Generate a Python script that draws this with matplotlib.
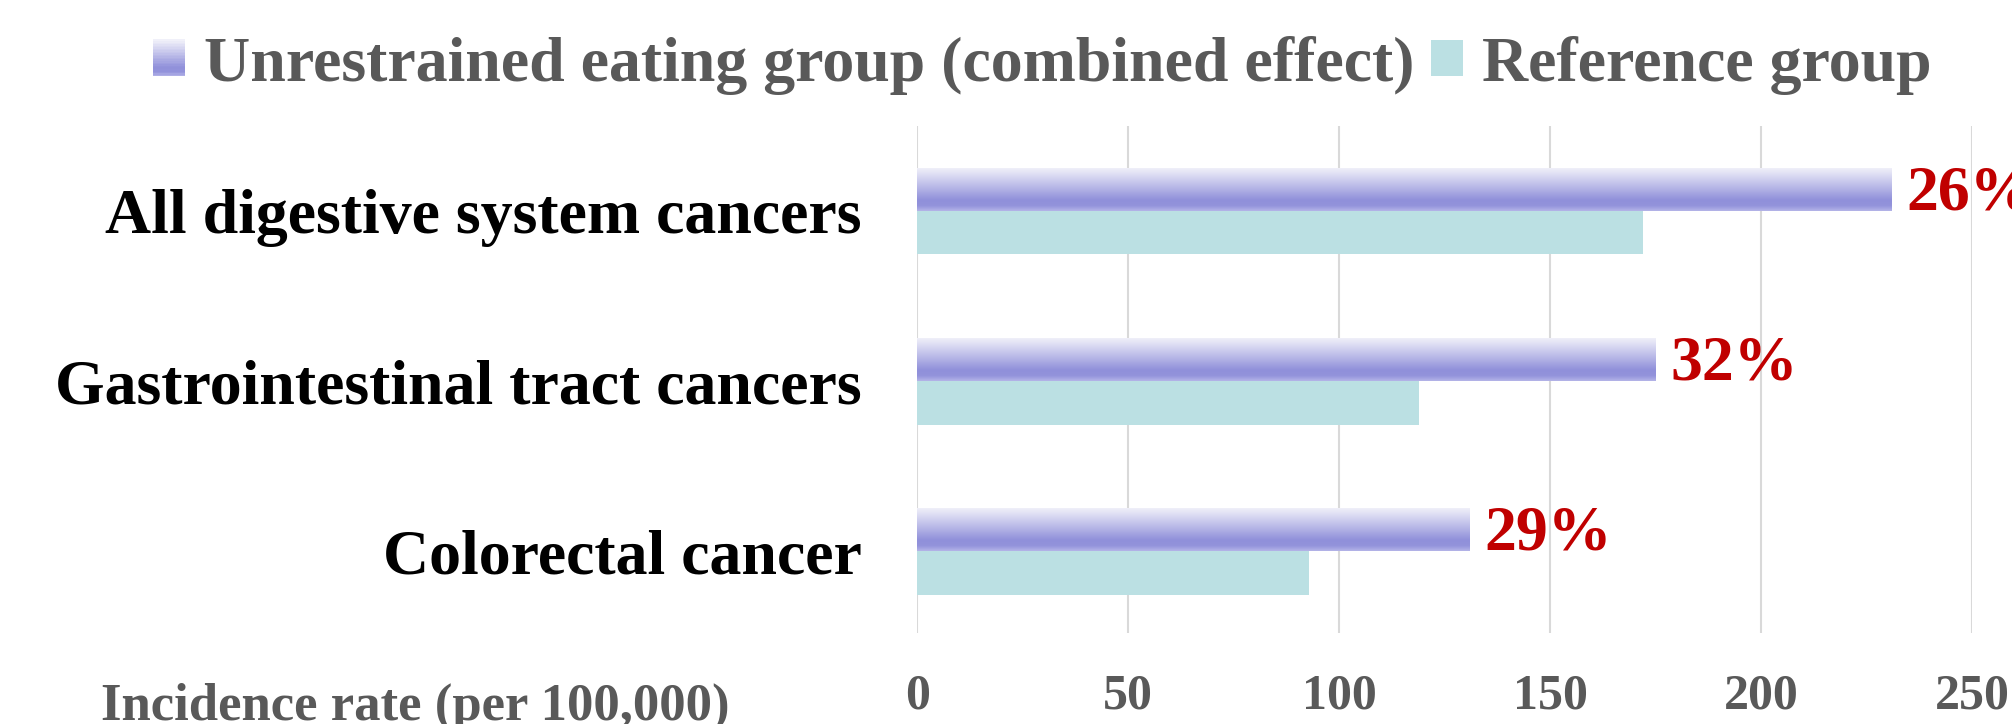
import numpy as np
import matplotlib
matplotlib.use("Agg")
import matplotlib.pyplot as plt
from matplotlib.colors import LinearSegmentedColormap
from matplotlib.legend_handler import HandlerBase
from matplotlib.patches import Rectangle

# incidence per 100,000, listed bottom to top
categories = ["Colorectal cancer", "Gastrointestinal tract cancers", "All digestive system cancers"]
unrestrained = [131, 175, 231]
reference = [93, 119, 172]
pct_labels = ["29%", "32%", "26%"]
x_ticks = [0, 50, 100, 150, 200, 250]

series_names = ["Unrestrained eating group (combined effect)", "Reference group"]

GREY = "#595959"
REF_COLOR = "#BBE0E3"
RED = "#C00000"
SERIF = ["Liberation Serif", "DejaVu Serif"]

# vertical shading used on the purple bars (top -> bottom)
purple_cmap = LinearSegmentedColormap.from_list(
    "purple_grad",
    [(0.0, "#F3F3FA"), (0.35, "#C6C6EC"), (0.75, "#9090DA"), (0.88, "#9393DB"), (1.0, "#B4B4E8")],
)


class GradientHandler(HandlerBase):
    """Legend key drawn as stacked strips of the bar gradient."""

    def create_artists(self, legend, orig_handle, xdescent, ydescent,
                       width, height, fontsize, trans):
        n = 24
        strips = []
        for i in range(n):
            c = purple_cmap(1 - (i + 0.5) / n)
            r = Rectangle((-xdescent, -ydescent + height * i / n), width, height / n + 0.2,
                          facecolor=c, edgecolor="none", transform=trans)
            strips.append(r)
        return strips


fig = plt.figure(figsize=(20.12, 7.24), dpi=100)
ax = fig.add_axes([0.4558, 0.1257, 0.5243, 0.7003])

y = np.arange(len(categories))
h = 0.255

bars_u = ax.barh(y + h / 2, unrestrained, height=h, color="none", edgecolor="none", zorder=3)
bars_r = ax.barh(y - h / 2, reference, height=h, color=REF_COLOR, edgecolor="none", zorder=3)

grad = np.linspace(0, 1, 256).reshape(-1, 1)
for bar in bars_u:
    x0, y0 = bar.get_x(), bar.get_y()
    w, bh = bar.get_width(), bar.get_height()
    im = ax.imshow(grad, cmap=purple_cmap, aspect="auto", origin="upper",
                   extent=[x0, x0 + w, y0, y0 + bh], zorder=3, interpolation="bilinear")
    im.set_clip_path(bar)

for yy, v, lab in zip(y, unrestrained, pct_labels):
    ax.text(v + 3.5, yy + h / 2 - 0.03, lab, va="center", ha="left", color=RED,
            fontsize=46, fontweight="bold", family=SERIF, clip_on=False, zorder=4)

ax.set_xlim(0, 250)
ax.set_ylim(-0.48, 2.5)
ax.set_xticks(x_ticks)
ax.set_yticks(y)
ax.set_yticklabels(categories)
ax.grid(axis="x", color="#D9D9D9", linewidth=1.5, zorder=0)
ax.set_axisbelow(True)
for s in ax.spines.values():
    s.set_visible(False)

ax.tick_params(axis="x", length=0, pad=29, labelsize=36, labelcolor=GREY)
ax.tick_params(axis="y", length=0, pad=40, labelsize=46, labelcolor="black")
for t in ax.get_xticklabels():
    t.set_fontweight("bold")
    t.set_family(SERIF)
for t in ax.get_yticklabels():
    t.set_fontweight("bold")
    t.set_family(SERIF)

fig.text(0.05, 0.024, "Incidence rate (per 100,000)", ha="left", va="center",
         fontsize=38, fontweight="bold", color=GREY, family=SERIF)

ref_handle = Rectangle((0, 0), 1, 1, facecolor=REF_COLOR, edgecolor="none")
grad_handle = Rectangle((0, 0), 1, 1)
leg = fig.legend([grad_handle, ref_handle], series_names,
                 handler_map={grad_handle: GradientHandler()},
                 loc="center", bbox_to_anchor=(0.518, 0.910), ncol=2, frameon=False,
                 handlelength=0.5, handleheight=0.5, handletextpad=0.3, columnspacing=0.25,
                 prop={"family": SERIF, "weight": "bold", "size": 46})
for t in leg.get_texts():
    t.set_color(GREY)

fig.savefig("out.png", dpi=100)
